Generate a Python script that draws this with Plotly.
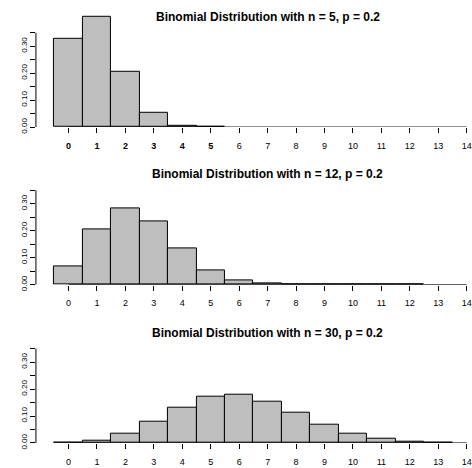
import plotly.graph_objects as go

# Binomial probabilities P(X = k), p = 0.2
k5 = [0, 1, 2, 3, 4, 5]
p5 = [0.32768, 0.4096, 0.2048, 0.0512, 0.0064, 0.00032]

k12 = [0, 1, 2, 3, 4, 5, 6, 7, 8, 9, 10, 11, 12]
p12 = [0.0687, 0.2062, 0.2835, 0.2362, 0.1329, 0.0532, 0.0155, 0.0033,
       0.00052, 0.000058, 0.0000043, 0.0000002, 0.0]

k30 = [0, 1, 2, 3, 4, 5, 6, 7, 8, 9, 10, 11, 12, 13]
p30 = [0.0012, 0.0093, 0.0337, 0.0785, 0.1325, 0.1723, 0.1795, 0.1538,
       0.1106, 0.0676, 0.0355, 0.0161, 0.0064, 0.0022]

titles = ["Binomial Distribution with n = 5, p = 0.2",
          "Binomial Distribution with n = 12, p = 0.2",
          "Binomial Distribution with n = 30, p = 0.2"]

x_ticks = list(range(15))
y_ticks = [0, 0.05, 0.10, 0.15, 0.20, 0.25, 0.30, 0.35]
y_text = ["0.00", "", "0.10", "", "0.20", "", "0.30", ""]

W, H = 472, 468
panels = [(k5, p5), (k12, p12), (k30, p30)]
bottoms_px = [129.0, 289.0, 449.7]   # pixel row of y = 0 in each panel
title_px = [17.0, 176.7, 338.0]
px_per_unit_y = 273.8
y_max = 0.42
x0_px, px_per_unit_x = 68.7, 28.5
left_px = 36.0
x_lo = (left_px - x0_px) / px_per_unit_x
x_hi = x_lo + (W - left_px) / px_per_unit_x

fig = go.Figure()
font_family = "Liberation Sans, Arial, sans-serif"

for i, (ks, ps) in enumerate(panels):
    n = i + 1
    xa = "x" if n == 1 else f"x{n}"
    ya = "y" if n == 1 else f"y{n}"
    fig.add_trace(go.Bar(
        x=ks, y=ps, width=1.0, xaxis=xa, yaxis=ya,
        marker=dict(color="#BEBEBE", line=dict(color="black", width=1)),
        showlegend=False, hoverinfo="x+y",
    ))
    bot = 1 - bottoms_px[i] / H
    top = 1 - (bottoms_px[i] - y_max * px_per_unit_y) / H
    if n == 1:
        ticktext = [f"<b>{t}</b>" if t <= 5 else str(t) for t in x_ticks]
    else:
        ticktext = [str(t) for t in x_ticks]
    xkey = "xaxis" if n == 1 else f"xaxis{n}"
    ykey = "yaxis" if n == 1 else f"yaxis{n}"
    fig.update_layout(**{
        xkey: dict(domain=[left_px / W, 1], range=[x_lo, x_hi], anchor=ya,
                   tickmode="array", tickvals=x_ticks, ticktext=ticktext,
                   ticks="outside", ticklen=5, tickwidth=1, tickcolor="black",
                   ticklabelstandoff=5, ticklabeloverflow="allow",
                   showgrid=False, zeroline=False, showline=False,
                   tickfont=dict(size=9, color="black", family=font_family),
                   fixedrange=True),
        ykey: dict(domain=[bot, top], range=[0, y_max], anchor=xa,
                   tickmode="array", tickvals=y_ticks, ticktext=y_text,
                   ticks="outside", ticklen=5, tickwidth=1, tickcolor="black",
                   tickangle=-90, showgrid=False, zeroline=False, showline=False,
                   tickfont=dict(size=8, color="black", family=font_family),
                   fixedrange=True),
    })
    # axis lines spanning only the labelled range, as in base R graphics
    fig.add_shape(type="line", xref=xa, yref=ya, x0=0, x1=14, y0=0, y1=0,
                  line=dict(color="black", width=1))
    fig.add_shape(type="line", xref=f"{xa} domain", yref=ya, x0=0, x1=0,
                  y0=0, y1=0.35, line=dict(color="black", width=1))
    fig.add_annotation(text=f"<b>{titles[i]}</b>", xref=xa, x=7,
                       yref="paper", y=1 - title_px[i] / H, yanchor="middle",
                       showarrow=False,
                       font=dict(size=12, color="black", family=font_family))

fig.update_layout(width=W, height=H, margin=dict(l=0, r=0, t=0, b=0),
                  paper_bgcolor="white", plot_bgcolor="white", bargap=0)
fig.write_html("out.html")
